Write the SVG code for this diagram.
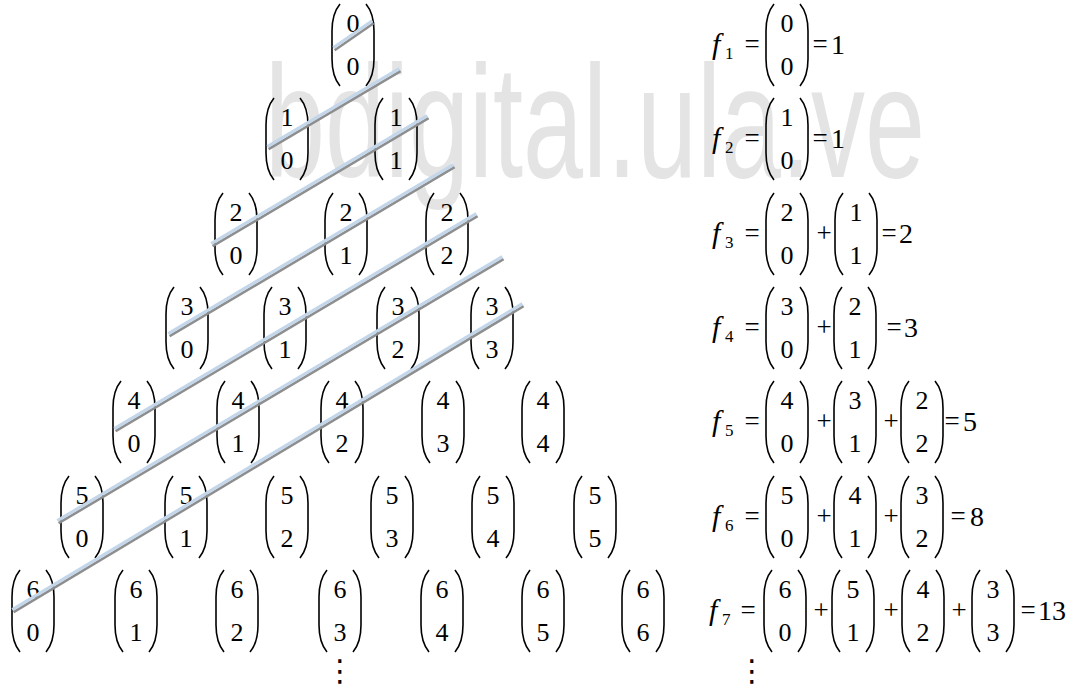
<svg xmlns="http://www.w3.org/2000/svg" width="1076" height="690" viewBox="0 0 1076 690">
<style>
text{font-family:"Liberation Serif","Times New Roman",serif}
#watermark{font-family:"Liberation Sans",Arial,sans-serif}
.d{font-family:"DejaVu Sans",sans-serif}
</style>
<defs>
<path id="lp" fill="none" stroke="#000" stroke-width="1.6" d="M-13,-41 C-18,-35 -21,-26 -21,-14 L-21,14 C-21,26 -18,35 -13,41"/>
<path id="rp" fill="none" stroke="#000" stroke-width="1.6" d="M13,-41 C18,-35 21,-26 21,-14 L21,14 C21,26 18,35 13,41"/>
</defs>
<rect width="1076" height="690" fill="#fff"/>
<text id="watermark" font-size="160" fill="#e4e4e4" x="265" y="177" textLength="660" lengthAdjust="spacingAndGlyphs">bdigital.ula.ve</text>

<g id="b0_0"><use href="#lp" x="353" y="45"/><use href="#rp" x="353" y="45"/><text font-size="26" x="346.5" y="31.5">0</text><text font-size="26" x="346.5" y="75">0</text></g>
<g id="b1_0"><use href="#lp" x="287" y="139"/><use href="#rp" x="287" y="139"/><text font-size="26" x="280.5" y="125.5">1</text><text font-size="26" x="280.5" y="169">0</text></g>
<g id="b1_1"><use href="#lp" x="396" y="139"/><use href="#rp" x="396" y="139"/><text font-size="26" x="389.5" y="125.5">1</text><text font-size="26" x="389.5" y="169">1</text></g>
<g id="b2_0"><use href="#lp" x="236" y="234"/><use href="#rp" x="236" y="234"/><text font-size="26" x="229.5" y="220.5">2</text><text font-size="26" x="229.5" y="264">0</text></g>
<g id="b2_1"><use href="#lp" x="346" y="234"/><use href="#rp" x="346" y="234"/><text font-size="26" x="339.5" y="220.5">2</text><text font-size="26" x="339.5" y="264">1</text></g>
<g id="b2_2"><use href="#lp" x="447" y="234"/><use href="#rp" x="447" y="234"/><text font-size="26" x="440.5" y="220.5">2</text><text font-size="26" x="440.5" y="264">2</text></g>
<g id="b3_0"><use href="#lp" x="187" y="328"/><use href="#rp" x="187" y="328"/><text font-size="26" x="180.5" y="314.5">3</text><text font-size="26" x="180.5" y="358">0</text></g>
<g id="b3_1"><use href="#lp" x="285" y="328"/><use href="#rp" x="285" y="328"/><text font-size="26" x="278.5" y="314.5">3</text><text font-size="26" x="278.5" y="358">1</text></g>
<g id="b3_2"><use href="#lp" x="398" y="328"/><use href="#rp" x="398" y="328"/><text font-size="26" x="391.5" y="314.5">3</text><text font-size="26" x="391.5" y="358">2</text></g>
<g id="b3_3"><use href="#lp" x="492" y="328"/><use href="#rp" x="492" y="328"/><text font-size="26" x="485.5" y="314.5">3</text><text font-size="26" x="485.5" y="358">3</text></g>
<g id="b4_0"><use href="#lp" x="134" y="422"/><use href="#rp" x="134" y="422"/><text font-size="26" x="127.5" y="408.5">4</text><text font-size="26" x="127.5" y="452">0</text></g>
<g id="b4_1"><use href="#lp" x="238" y="422"/><use href="#rp" x="238" y="422"/><text font-size="26" x="231.5" y="408.5">4</text><text font-size="26" x="231.5" y="452">1</text></g>
<g id="b4_2"><use href="#lp" x="342" y="422"/><use href="#rp" x="342" y="422"/><text font-size="26" x="335.5" y="408.5">4</text><text font-size="26" x="335.5" y="452">2</text></g>
<g id="b4_3"><use href="#lp" x="443" y="422"/><use href="#rp" x="443" y="422"/><text font-size="26" x="436.5" y="408.5">4</text><text font-size="26" x="436.5" y="452">3</text></g>
<g id="b4_4"><use href="#lp" x="543" y="422"/><use href="#rp" x="543" y="422"/><text font-size="26" x="536.5" y="408.5">4</text><text font-size="26" x="536.5" y="452">4</text></g>
<g id="b5_0"><use href="#lp" x="82" y="517"/><use href="#rp" x="82" y="517"/><text font-size="26" x="75.5" y="503.5">5</text><text font-size="26" x="75.5" y="547">0</text></g>
<g id="b5_1"><use href="#lp" x="186" y="517"/><use href="#rp" x="186" y="517"/><text font-size="26" x="179.5" y="503.5">5</text><text font-size="26" x="179.5" y="547">1</text></g>
<g id="b5_2"><use href="#lp" x="287" y="517"/><use href="#rp" x="287" y="517"/><text font-size="26" x="280.5" y="503.5">5</text><text font-size="26" x="280.5" y="547">2</text></g>
<g id="b5_3"><use href="#lp" x="392" y="517"/><use href="#rp" x="392" y="517"/><text font-size="26" x="385.5" y="503.5">5</text><text font-size="26" x="385.5" y="547">3</text></g>
<g id="b5_4"><use href="#lp" x="493" y="517"/><use href="#rp" x="493" y="517"/><text font-size="26" x="486.5" y="503.5">5</text><text font-size="26" x="486.5" y="547">4</text></g>
<g id="b5_5"><use href="#lp" x="595" y="517"/><use href="#rp" x="595" y="517"/><text font-size="26" x="588.5" y="503.5">5</text><text font-size="26" x="588.5" y="547">5</text></g>
<g id="b6_0"><use href="#lp" x="33" y="611"/><use href="#rp" x="33" y="611"/><text font-size="26" x="26.5" y="597.5">6</text><text font-size="26" x="26.5" y="641">0</text></g>
<g id="b6_1"><use href="#lp" x="136" y="611"/><use href="#rp" x="136" y="611"/><text font-size="26" x="129.5" y="597.5">6</text><text font-size="26" x="129.5" y="641">1</text></g>
<g id="b6_2"><use href="#lp" x="237" y="611"/><use href="#rp" x="237" y="611"/><text font-size="26" x="230.5" y="597.5">6</text><text font-size="26" x="230.5" y="641">2</text></g>
<g id="b6_3"><use href="#lp" x="340" y="611"/><use href="#rp" x="340" y="611"/><text font-size="26" x="333.5" y="597.5">6</text><text font-size="26" x="333.5" y="641">3</text></g>
<g id="b6_4"><use href="#lp" x="442" y="611"/><use href="#rp" x="442" y="611"/><text font-size="26" x="435.5" y="597.5">6</text><text font-size="26" x="435.5" y="641">4</text></g>
<g id="b6_5"><use href="#lp" x="543" y="611"/><use href="#rp" x="543" y="611"/><text font-size="26" x="536.5" y="597.5">6</text><text font-size="26" x="536.5" y="641">5</text></g>
<g id="b6_6"><use href="#lp" x="643" y="611"/><use href="#rp" x="643" y="611"/><text font-size="26" x="636.5" y="597.5">6</text><text font-size="26" x="636.5" y="641">6</text></g>
<text id="vdots_left" class="d" font-size="30" text-anchor="middle" x="340" y="681">⋮</text>

<g id="connectors">
<g stroke="#8e8e8e" stroke-width="2.6" transform="translate(0.6,1.2)">
<line x1="334" y1="49" x2="373" y2="22"/>
<line x1="268" y1="148" x2="400" y2="70"/>
<line x1="212" y1="245" x2="428" y2="117"/>
<line x1="169" y1="335" x2="454" y2="166"/>
<line x1="115" y1="430" x2="477" y2="215"/>
<line x1="58" y1="522" x2="503" y2="258"/>
<line x1="13" y1="611" x2="523" y2="305"/>
</g>
<g stroke="#c3d6ea" stroke-width="3.2" transform="translate(-0.7,-1.3)">
<line x1="334" y1="49" x2="373" y2="22"/>
<line x1="268" y1="148" x2="400" y2="70"/>
<line x1="212" y1="245" x2="428" y2="117"/>
<line x1="169" y1="335" x2="454" y2="166"/>
<line x1="115" y1="430" x2="477" y2="215"/>
<line x1="58" y1="522" x2="503" y2="258"/>
<line x1="13" y1="611" x2="523" y2="305"/>
</g>
</g>

<g id="f1">
<text font-size="30" font-style="italic" x="712" y="54">f</text><text font-size="17" x="725" y="59">1</text>
<text font-size="27" x="744.4" y="53">=</text>
<use href="#lp" x="787" y="45"/><use href="#rp" x="787" y="45"/><text font-size="26" x="780.5" y="31.5">0</text><text font-size="26" x="780.5" y="75">0</text>
<text font-size="27" x="812.4" y="53">=</text><text font-size="28" x="831" y="54">1</text>
</g>
<g id="f2">
<text font-size="30" font-style="italic" x="712" y="148">f</text><text font-size="17" x="725" y="153">2</text>
<text font-size="27" x="744.4" y="147">=</text>
<use href="#lp" x="787" y="139"/><use href="#rp" x="787" y="139"/><text font-size="26" x="780.5" y="125.5">1</text><text font-size="26" x="780.5" y="169">0</text>
<text font-size="27" x="812.4" y="147">=</text><text font-size="28" x="831" y="148">1</text>
</g>
<g id="f3">
<text font-size="30" font-style="italic" x="712" y="243">f</text><text font-size="17" x="725" y="248">3</text>
<text font-size="27" x="744.4" y="242">=</text>
<use href="#lp" x="787" y="234"/><use href="#rp" x="787" y="234"/><text font-size="26" x="780.5" y="220.5">2</text><text font-size="26" x="780.5" y="264">0</text>
<text font-size="27" x="816.4" y="242">+</text>
<use href="#lp" x="856" y="234"/><use href="#rp" x="856" y="234"/><text font-size="26" x="849.5" y="220.5">1</text><text font-size="26" x="849.5" y="264">1</text>
<text font-size="27" x="881.4" y="242">=</text><text font-size="28" x="899" y="243">2</text>
</g>
<g id="f4">
<text font-size="30" font-style="italic" x="712" y="337">f</text><text font-size="17" x="725" y="342">4</text>
<text font-size="27" x="744.4" y="336">=</text>
<use href="#lp" x="787" y="328"/><use href="#rp" x="787" y="328"/><text font-size="26" x="780.5" y="314.5">3</text><text font-size="26" x="780.5" y="358">0</text>
<text font-size="27" x="816.4" y="336">+</text>
<use href="#lp" x="855" y="328"/><use href="#rp" x="855" y="328"/><text font-size="26" x="848.5" y="314.5">2</text><text font-size="26" x="848.5" y="358">1</text>
<text font-size="27" x="886.4" y="336">=</text><text font-size="28" x="904" y="337">3</text>
</g>
<g id="f5">
<text font-size="30" font-style="italic" x="712" y="431">f</text><text font-size="17" x="725" y="436">5</text>
<text font-size="27" x="744.4" y="430">=</text>
<use href="#lp" x="787" y="422"/><use href="#rp" x="787" y="422"/><text font-size="26" x="780.5" y="408.5">4</text><text font-size="26" x="780.5" y="452">0</text>
<text font-size="27" x="816.4" y="430">+</text>
<use href="#lp" x="855" y="422"/><use href="#rp" x="855" y="422"/><text font-size="26" x="848.5" y="408.5">3</text><text font-size="26" x="848.5" y="452">1</text>
<text font-size="27" x="883.4" y="430">+</text>
<use href="#lp" x="922" y="422"/><use href="#rp" x="922" y="422"/><text font-size="26" x="915.5" y="408.5">2</text><text font-size="26" x="915.5" y="452">2</text>
<text font-size="27" x="944.4" y="430">=</text><text font-size="28" x="963" y="431">5</text>
</g>
<g id="f6">
<text font-size="30" font-style="italic" x="712" y="526">f</text><text font-size="17" x="725" y="531">6</text>
<text font-size="27" x="744.4" y="525">=</text>
<use href="#lp" x="787" y="517"/><use href="#rp" x="787" y="517"/><text font-size="26" x="780.5" y="503.5">5</text><text font-size="26" x="780.5" y="547">0</text>
<text font-size="27" x="816.4" y="525">+</text>
<use href="#lp" x="855" y="517"/><use href="#rp" x="855" y="517"/><text font-size="26" x="848.5" y="503.5">4</text><text font-size="26" x="848.5" y="547">1</text>
<text font-size="27" x="883.4" y="525">+</text>
<use href="#lp" x="922" y="517"/><use href="#rp" x="922" y="517"/><text font-size="26" x="915.5" y="503.5">3</text><text font-size="26" x="915.5" y="547">2</text>
<text font-size="27" x="950.4" y="525">=</text><text font-size="28" x="970" y="526">8</text>
</g>
<g id="f7">
<text font-size="30" font-style="italic" x="709" y="620">f</text><text font-size="17" x="722" y="625">7</text>
<text font-size="27" x="740.4" y="619">=</text>
<use href="#lp" x="785" y="611"/><use href="#rp" x="785" y="611"/><text font-size="26" x="778.5" y="597.5">6</text><text font-size="26" x="778.5" y="641">0</text>
<text font-size="27" x="813.4" y="619">+</text>
<use href="#lp" x="853" y="611"/><use href="#rp" x="853" y="611"/><text font-size="26" x="846.5" y="597.5">5</text><text font-size="26" x="846.5" y="641">1</text>
<text font-size="27" x="883.4" y="619">+</text>
<use href="#lp" x="923" y="611"/><use href="#rp" x="923" y="611"/><text font-size="26" x="916.5" y="597.5">4</text><text font-size="26" x="916.5" y="641">2</text>
<text font-size="27" x="951.4" y="619">+</text>
<use href="#lp" x="993" y="611"/><use href="#rp" x="993" y="611"/><text font-size="26" x="986.5" y="597.5">3</text><text font-size="26" x="986.5" y="641">3</text>
<text font-size="27" x="1020.4" y="619">=</text><text font-size="28" x="1038" y="620">13</text>
</g>
<text id="vdots_right" class="d" font-size="30" text-anchor="middle" x="752" y="681">⋮</text>
</svg>
